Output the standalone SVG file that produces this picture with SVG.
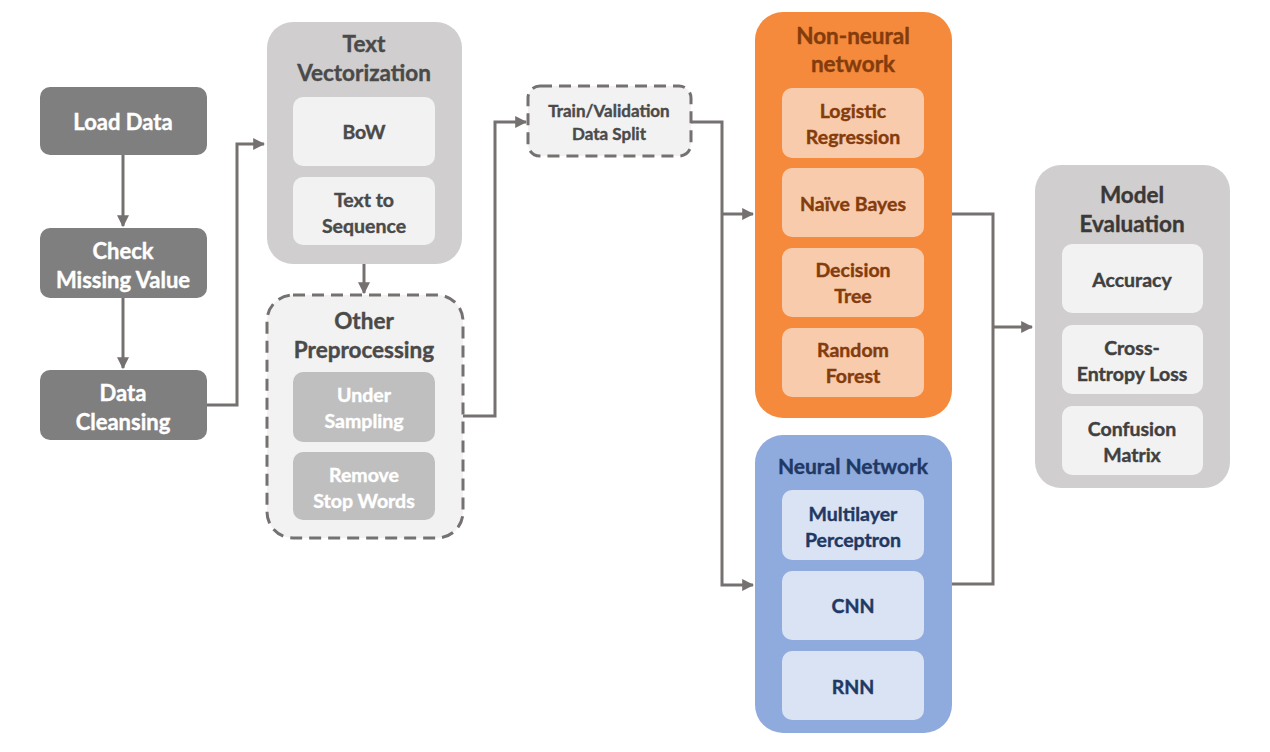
<svg xmlns="http://www.w3.org/2000/svg" width="1270" height="752" viewBox="0 0 1270 752">
<defs>
<marker id="ah" viewBox="0 0 10 10" refX="9" refY="5" markerWidth="4" markerHeight="4" orient="auto" markerUnits="strokeWidth">
<path d="M0,0 L10,5 L0,10 z" fill="#767171"/>
</marker>
<style>
text{font-family:Lato,"Open Sans","Liberation Sans",sans-serif;font-weight:700;text-anchor:middle;dominant-baseline:central;stroke-width:0.4px}
.dark{fill:#7f7f7f}
.wt{fill:#ffffff;stroke:#ffffff;font-size:22px}
.gbox{fill:#d0cece}
.ibox{fill:#f2f2f2}
.sbox{fill:#bfbfbf}
.dash{fill:#f2f2f2;stroke:#767171;stroke-width:3;stroke-dasharray:12 7}
.gt{fill:#4a4a4a;stroke:#4a4a4a;font-size:22.5px}
.git{fill:#4a4a4a;stroke:#4a4a4a;font-size:19.5px}
.wit{fill:#ffffff;stroke:#ffffff;font-size:19.5px}
.obox{fill:#f58a3c}
.oibox{fill:#f8cbad}
.ot{fill:#843c0c;stroke:#843c0c;font-size:22.5px}
.oit{fill:#843c0c;stroke:#843c0c;font-size:19.5px}
.bbox{fill:#8faadc}
.bibox{fill:#dae3f3}
.bt{fill:#1f3864;stroke:#1f3864;font-size:21px}
.bit{fill:#1f3864;stroke:#1f3864;font-size:19.5px}
.et{fill:#3b3838;stroke:#3b3838;font-size:22.5px}
.eit{fill:#404040;stroke:#404040;font-size:19.5px}
.sm{font-size:17px}
.conn{fill:none;stroke:#767171;stroke-width:3}
</style>
</defs>
<rect width="1270" height="752" fill="#ffffff"/>

<g id="connectors">
<path class="conn" d="M123,155 V226" marker-end="url(#ah)"/>
<path class="conn" d="M123,298 V368" marker-end="url(#ah)"/>
<path class="conn" d="M207,405 H237 V144 H264" marker-end="url(#ah)"/>
<path class="conn" d="M364,264 V293" marker-end="url(#ah)"/>
<path class="conn" d="M463,416 H495 V122 H526" marker-end="url(#ah)"/>
<path class="conn" d="M691,122 H722 V585 H753" marker-end="url(#ah)"/>
<path class="conn" d="M722,214 H753" marker-end="url(#ah)"/>
<path class="conn" d="M952,214 H993 V584 H952"/>
<path class="conn" d="M993,327 H1032" marker-end="url(#ah)"/>
</g>

<g id="load-data">
<rect class="dark" x="40" y="87" width="167" height="68" rx="10"/>
<text class="wt" x="123" y="121">Load Data</text>
</g>
<g id="check-missing">
<rect class="dark" x="40" y="228" width="167" height="70" rx="10"/>
<text class="wt" x="123" y="250">Check</text>
<text class="wt" x="123" y="279">Missing Value</text>
</g>
<g id="data-cleansing">
<rect class="dark" x="40" y="370" width="167" height="70" rx="10"/>
<text class="wt" x="123" y="392">Data</text>
<text class="wt" x="123" y="421">Cleansing</text>
</g>

<g id="text-vectorization">
<rect class="gbox" x="267" y="22" width="195" height="242" rx="26"/>
<text class="gt" x="364" y="43">Text</text>
<text class="gt" x="364" y="72">Vectorization</text>
<g id="bow">
<rect class="ibox" x="293" y="97" width="142" height="69" rx="10"/>
<text class="git" x="364" y="131">BoW</text>
</g>
<g id="text-to-sequence">
<rect class="ibox" x="293" y="177" width="142" height="68" rx="10"/>
<text class="git" x="364" y="199">Text to</text>
<text class="git" x="364" y="225">Sequence</text>
</g>
</g>

<g id="other-preprocessing">
<rect class="dash" x="267" y="295" width="196" height="243" rx="26"/>
<text class="gt" x="364" y="320">Other</text>
<text class="gt" x="364" y="349">Preprocessing</text>
<g id="under-sampling">
<rect class="sbox" x="293" y="372" width="142" height="70" rx="10"/>
<text class="wit" x="364" y="394">Under</text>
<text class="wit" x="364" y="420">Sampling</text>
</g>
<g id="remove-stop-words">
<rect class="sbox" x="293" y="452" width="142" height="68" rx="10"/>
<text class="wit" x="364" y="474">Remove</text>
<text class="wit" x="364" y="500">Stop Words</text>
</g>
</g>

<g id="train-validation">
<rect class="dash" x="528" y="86" width="163" height="70" rx="12"/>
<text class="git sm" x="609" y="110">Train/Validation</text>
<text class="git sm" x="609" y="133">Data Split</text>
</g>

<g id="non-neural-network">
<rect class="obox" x="755" y="12" width="197" height="406" rx="28"/>
<text class="ot" x="853" y="35">Non-neural</text>
<text class="ot" x="853" y="63">network</text>
<g id="logistic-regression">
<rect class="oibox" x="782" y="88" width="142" height="70" rx="10"/>
<text class="oit" x="853" y="110">Logistic</text>
<text class="oit" x="853" y="136">Regression</text>
</g>
<g id="naive-bayes">
<rect class="oibox" x="782" y="168" width="142" height="69" rx="10"/>
<text class="oit" x="853" y="203">Naïve Bayes</text>
</g>
<g id="decision-tree">
<rect class="oibox" x="782" y="248" width="142" height="69" rx="10"/>
<text class="oit" x="853" y="269">Decision</text>
<text class="oit" x="853" y="295">Tree</text>
</g>
<g id="random-forest">
<rect class="oibox" x="782" y="328" width="142" height="69" rx="10"/>
<text class="oit" x="853" y="349">Random</text>
<text class="oit" x="853" y="375">Forest</text>
</g>
</g>

<g id="neural-network">
<rect class="bbox" x="755" y="435" width="197" height="298" rx="28"/>
<text class="bt" x="853" y="465">Neural Network</text>
<g id="mlp">
<rect class="bibox" x="782" y="490" width="142" height="70" rx="10"/>
<text class="bit" x="853" y="513">Multilayer</text>
<text class="bit" x="853" y="539">Perceptron</text>
</g>
<g id="cnn">
<rect class="bibox" x="782" y="571" width="142" height="69" rx="10"/>
<text class="bit" x="853" y="605">CNN</text>
</g>
<g id="rnn">
<rect class="bibox" x="782" y="651" width="142" height="69" rx="10"/>
<text class="bit" x="853" y="686">RNN</text>
</g>
</g>

<g id="model-evaluation">
<rect class="gbox" x="1035" y="165" width="195" height="323" rx="26"/>
<text class="et" x="1132" y="194">Model</text>
<text class="et" x="1132" y="223">Evaluation</text>
<g id="accuracy">
<rect class="ibox" x="1062" y="244" width="141" height="69" rx="10"/>
<text class="eit" x="1132" y="279">Accuracy</text>
</g>
<g id="cross-entropy">
<rect class="ibox" x="1062" y="325" width="141" height="69" rx="10"/>
<text class="eit" x="1132" y="347">Cross-</text>
<text class="eit" x="1132" y="373">Entropy Loss</text>
</g>
<g id="confusion-matrix">
<rect class="ibox" x="1062" y="406" width="141" height="69" rx="10"/>
<text class="eit" x="1132" y="428">Confusion</text>
<text class="eit" x="1132" y="454">Matrix</text>
</g>
</g>
</svg>
